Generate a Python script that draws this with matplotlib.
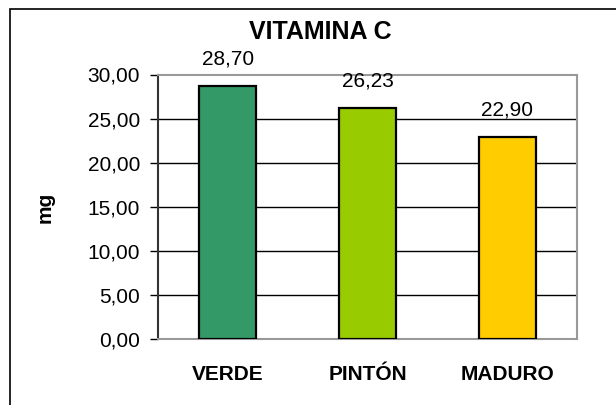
import matplotlib
matplotlib.use("Agg")
import matplotlib.pyplot as plt
from matplotlib.patches import Rectangle

plt.rcParams['font.family'] = ['Liberation Sans', 'DejaVu Sans']

stages = ['VERDE', 'PINTÓN', 'MADURO']
vitamin_c = [28.70, 26.23, 22.90]
bar_colors = ['#339966', '#99CC00', '#FFCC00']
y_ticks = [0, 5, 10, 15, 20, 25, 30]

W, H = 616, 405
fig = plt.figure(figsize=(W / 100, H / 100), dpi=100)
fig.patch.set_facecolor('white')

# outer chart border (runs off the right and bottom edges)
fig.patches.append(Rectangle((10 / W, -0.05), 1.1, 1.05 - 9 / H,
                             transform=fig.transFigure, fill=False,
                             edgecolor='black', linewidth=1.2))

ax = fig.add_axes([158 / W, (H - 339.3) / H, 419 / W, 264.8 / H])
x = list(range(len(stages)))
ax.bar(x, vitamin_c, width=0.41, color=bar_colors, edgecolor='black',
       linewidth=1.6, zorder=3)

ax.set_xlim(-0.5, len(stages) - 0.5)
ax.set_ylim(0, 30)
ax.set_yticks(y_ticks)
ax.set_yticklabels([f"{v:.2f}".replace('.', ',') for v in y_ticks])
ax.tick_params(axis='y', labelsize=15, length=6, width=1, pad=7, color='black')
ax.set_xticks([])

for v in y_ticks[1:-1]:
    ax.axhline(v, color='black', linewidth=1, zorder=1)

for side in ['top', 'right', 'bottom']:
    ax.spines[side].set_color('#999999')
    ax.spines[side].set_linewidth(1.5)
ax.spines['left'].set_color('#333333')
ax.spines['left'].set_linewidth(1.5)

# value labels above bars
for xi, v in zip(x, vitamin_c):
    ax.annotate(f"{v:.2f}".replace('.', ','), (xi, v), xytext=(0, 15.5),
                textcoords='offset points', ha='center', va='baseline',
                fontsize=15)

# category names under the axis
for xi, name in zip(x, stages):
    ax.annotate(name, (xi, 0), xytext=(0, -29.5), textcoords='offset points',
                ha='center', va='baseline', fontsize=15, fontweight='bold',
                annotation_clip=False)

fig.text(320 / W, (H - 39) / H, 'VITAMINA C', ha='center', va='baseline',
         fontsize=18, fontweight='bold')
fig.text(45 / W, (H - 207) / H, 'mg', ha='center', va='center', rotation=90,
         fontsize=15, fontweight='bold')

fig.savefig('out.png', dpi=100)
